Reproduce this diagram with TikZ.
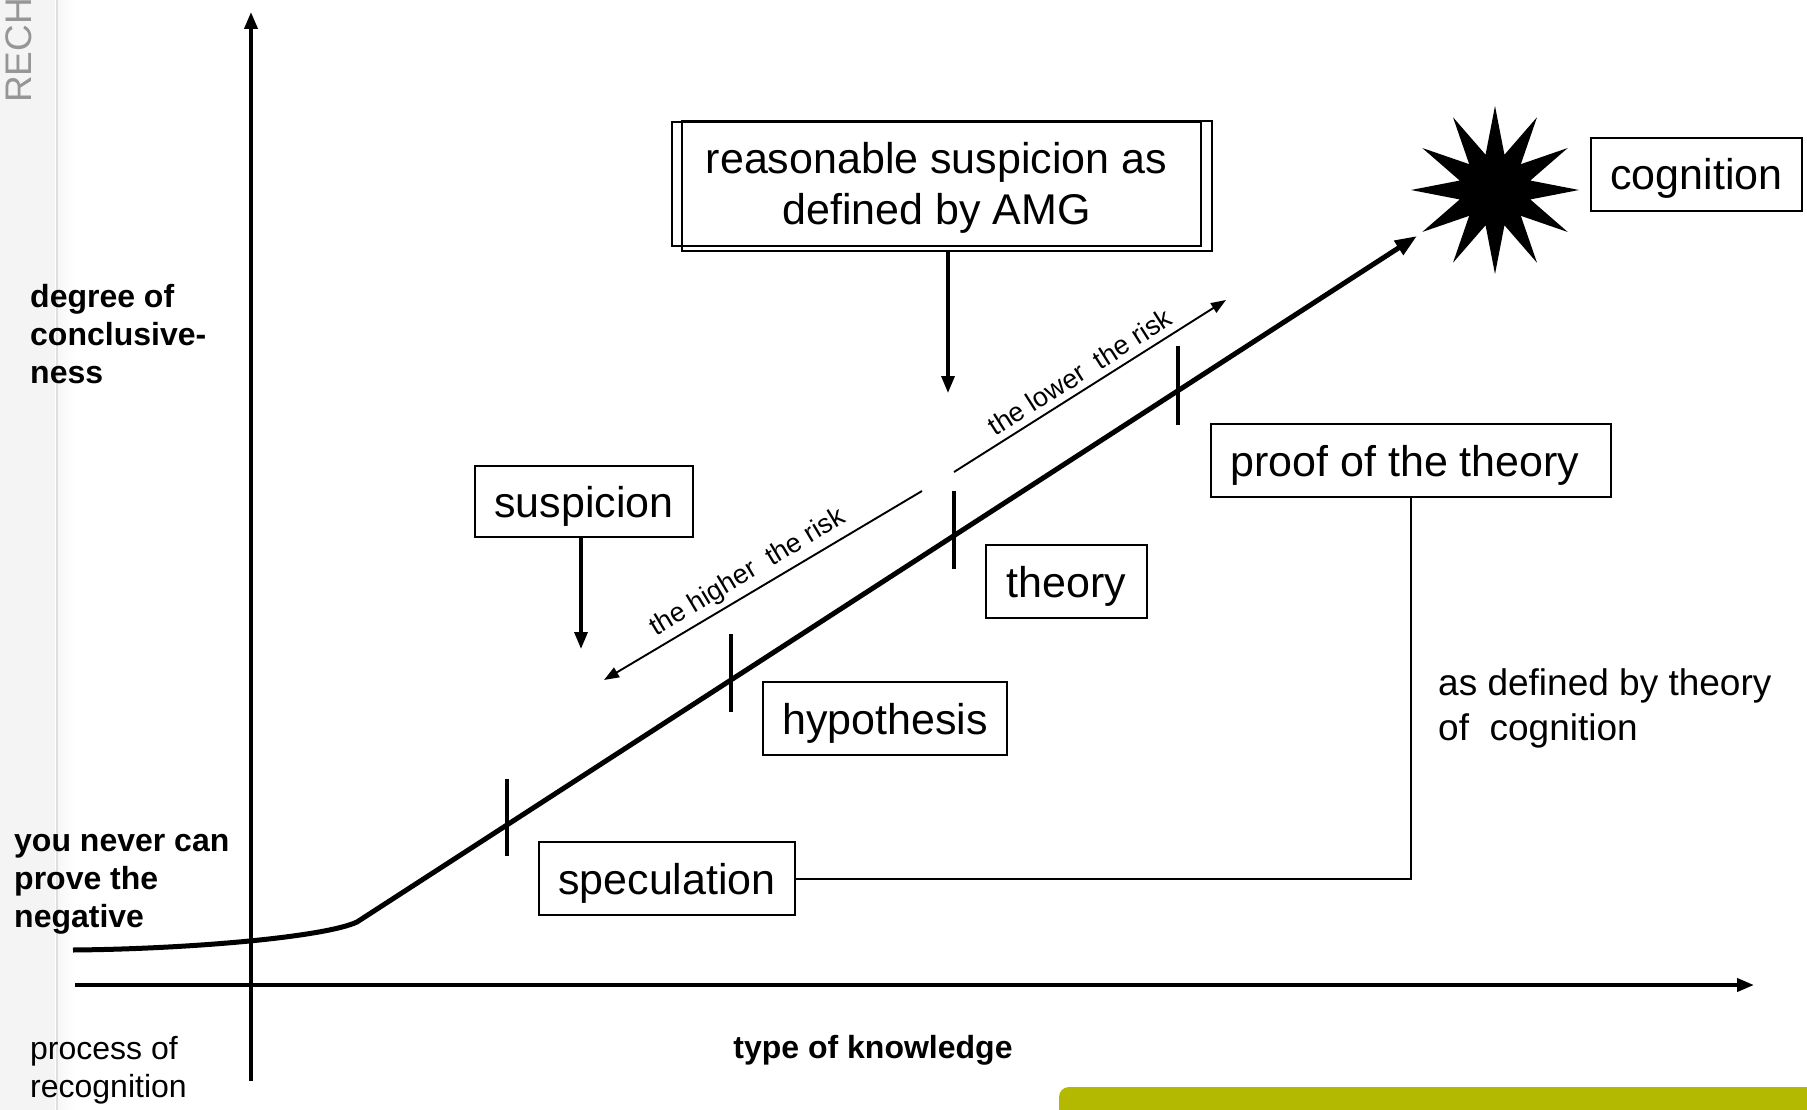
\documentclass[tikz,border=0pt]{standalone}
\usepackage{fontspec}
\setmainfont{Liberation Sans}
\usetikzlibrary{arrows.meta,shapes.geometric,calc}
\definecolor{barcol}{RGB}{178,185,0}
\definecolor{stripcol}{RGB}{244,244,244}
\definecolor{rechcol}{RGB}{150,150,150}
\begin{document}
\begin{tikzpicture}[x=1pt,y=-1pt,
  box/.style={draw, line width=2.2pt, inner sep=0pt, font=\fontsize{43}{50}\selectfont, text height=37pt, text depth=6pt},
  axis/.style={line width=3.8pt, -{Triangle[length=17pt,width=13pt]}},
  mainline/.style={line width=5pt, -{Triangle[length=22pt,width=16pt]}},
  thinarr/.style={line width=1.9pt, -{Triangle[length=15pt,width=11pt]}},
  downarr/.style={line width=3.4pt, -{Triangle[length=17pt,width=13pt]}},
  conn/.style={line width=2pt},
  tickmark/.style={line width=3.2pt},
  lab/.style={inner sep=0pt, font=\fontsize{32}{38}\selectfont, align=left, anchor=west},
  risk/.style={inner sep=0pt, font=\fontsize{27}{32}\selectfont}
]
\useasboundingbox (0,0) rectangle (1807,1110);
% left strip
\fill[stripcol] (0,0) rectangle (55,1110);
\draw[gray!25, line width=1.5pt] (57,0) -- (57,1110);
\shade[left color=gray!6, right color=white] (58,0) rectangle (75,1110);
\node[rotate=90, anchor=base west, inner sep=0pt, text=rechcol, font=\fontsize{37}{42}\selectfont] (rech) at (31,103) {RECH};
% bottom bar
\fill[barcol] (1059,1115) [rounded corners=10pt] -- (1059,1087) [sharp corners] -- (1812,1087) -- (1812,1115) -- cycle;

% axes
\coordinate (yb) at (251,1081);
\coordinate (yt) at (251,12);
\coordinate (xl) at (75,985);
\coordinate (xr) at (1754,985);
\draw[axis] (yb) -- (yt);
\draw[axis] (xl) -- (xr);

% main curve
\coordinate (c0) at (73,950);
\coordinate (c1) at (357,922);
\coordinate (tipmain) at (1417,236);
\draw[mainline] (c0) .. controls (190,949) and (325,937) .. (c1) -- (tipmain);

% ticks
\draw[tickmark] (507,779) -- (507,856);
\draw[tickmark] (731,634) -- (731,712);
\draw[tickmark] (954,491) -- (954,569);
\draw[tickmark] (1178,346) -- (1178,425);

% star
\node[star, star points=12, star point ratio=2.3, fill=black, draw=none, minimum size=168pt, inner sep=0pt] (star) at (1495,190) {};

% boxes
\node[box, minimum width=218pt, minimum height=71pt] (susp) at (584,501.5) {suspicion};
\node[box, minimum width=161pt, minimum height=73pt] (theory) at (1066.5,581.5) {theory};
\node[box, minimum width=244pt, minimum height=73pt] (hyp) at (885,718.5) {hypothesis};
\node[box, minimum width=256pt, minimum height=73pt] (spec) at (667,878.5) {speculation};
\node[box, minimum width=400pt, minimum height=73pt] (proof) at (1411,460.5) {proof of the theory\hspace*{12pt}};
\node[box, minimum width=211pt, minimum height=73pt] (cog) at (1696.5,174.5) {cognition};
\node[draw, line width=2.2pt, inner sep=0pt, minimum width=529pt, minimum height=124pt, align=center, font=\fontsize{43}{51}\selectfont] (amg) at (936.5,184) {\rule{0pt}{39pt}reasonable suspicion as\\defined by AMG};
\draw[line width=2.2pt] ($(amg.north west)+(11,0)$) rectangle ($(amg.south east)+(10,4)$);

% arrows from boxes
\coordinate (amgtip) at (948,393);
\draw[downarr] ($(amg.south -| amgtip)+(0,4)$) -- (amgtip);
\coordinate (susptip) at (581,649);
\draw[downarr] (susp.south -| susptip) -- (susptip);
\draw[conn] (spec.east) -| (proof.south);

% risk arrows
\coordinate (hs) at (922,491);
\coordinate (he) at (604,680);
\draw[thinarr] (hs) -- (he);
\coordinate (ls) at (954,472);
\coordinate (le) at (1226,300);
\draw[thinarr] (ls) -- (le);
\node[risk, rotate=31] (hlab) at (748,573) {the higher~ the risk};
\node[risk, rotate=32.5] (llab) at (1080,372) {the lower~ the risk};

% labels
\node[lab, font=\fontsize{32}{38}\selectfont\bfseries] (deg) at (30,334) {degree of\\conclusive-\\ness};
\node[lab, font=\fontsize{32}{38}\selectfont\bfseries] (neg) at (14,884) {you never can\\prove the\\negative};
\node[lab] (proc) at (30,1070) {process of\\recognition};
\node[inner sep=0pt, font=\fontsize{32}{38}\selectfont\bfseries] (type) at (873,1050) {type of knowledge};
\node[lab, font=\fontsize{37}{45}\selectfont] (asdef) at (1438,708) {as defined by theory\\of~ cognition};
\end{tikzpicture}
\end{document}
